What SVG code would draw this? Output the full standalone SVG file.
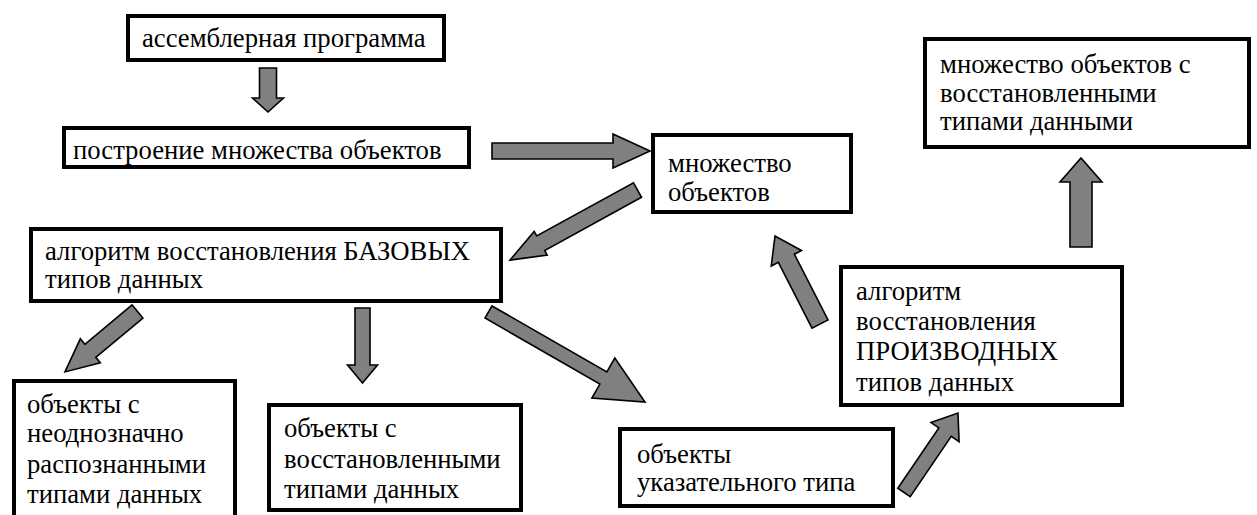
<svg xmlns="http://www.w3.org/2000/svg" width="1257" height="515" viewBox="0 0 1257 515">
<style>
.box{fill:#fff;stroke:#000;stroke-width:4}
.arr{fill:#808080;stroke:#000;stroke-width:1.6;stroke-linejoin:miter}
</style>
<rect width="1257" height="515" fill="#fff"/>
<g id="connectors">
<polygon class="arr" transform="translate(268,68) rotate(90)" points="0,-8.5 30,-8.5 30,-15.5 44,0 30,15.5 30,8.5 0,8.5"/>
<polygon class="arr" transform="translate(492,151) rotate(0)" points="0,-8 121,-8 121,-17 158,0 121,17 121,8 0,8"/>
<polygon class="arr" transform="translate(637.5,190) rotate(151.2)" points="0,-8.3 110.5,-8.3 110.5,-13.5 145.5,0 110.5,13.5 110.5,8.3 0,8.3"/>
<polygon class="arr" transform="translate(137.5,311.5) rotate(140.2)" points="0,-8.5 61.4,-8.5 61.4,-15.6 94.4,0 61.4,15.6 61.4,8.5 0,8.5"/>
<polygon class="arr" transform="translate(362.5,308) rotate(90)" points="0,-7.5 57,-7.5 57,-15 75,0 57,15 57,7.5 0,7.5"/>
<polygon class="arr" transform="translate(488.5,312) rotate(29.9)" points="0,-7 132.5,-7 132.5,-23 180.5,0 132.5,23 132.5,7 0,7"/>
<polygon class="arr" transform="translate(820,324) rotate(-117.1)" points="0,-9 73.8,-9 73.8,-17 98.8,0 73.8,17 73.8,9 0,9"/>
<polygon class="arr" transform="translate(904,492.5) rotate(-55.8)" points="0,-7.5 73,-7.5 73,-17 96,0 73,17 73,7.5 0,7.5"/>
<polygon class="arr" transform="translate(1081,247) rotate(-90)" points="0,-11 65,-11 65,-21 89,0 65,21 65,11 0,11"/>
</g>
<g font-family="Liberation Serif, Times New Roman, Noto Serif, DejaVu Serif, serif" font-size="26.7" fill="#000">
<g id="n1"><rect class="box" x="128" y="16" width="316" height="44"/><text x="142" y="47">ассемблерная программа</text></g>
<g id="n2"><rect class="box" x="64" y="128" width="405" height="39"/><text x="73" y="159">построение множества объектов</text></g>
<g id="n3"><rect class="box" x="653" y="135" width="198" height="77"/><text x="668" y="172">множество</text><text x="668" y="201">объектов</text></g>
<g id="n4"><rect class="box" x="925" y="39" width="324" height="108"/><text x="940" y="73">множество объектов с</text><text x="940" y="102">восстановленными</text><text x="940" y="130">типами данными</text></g>
<g id="n5"><rect class="box" x="31" y="229" width="470" height="72"/><text x="45" y="260">алгоритм восстановления БАЗОВЫХ</text><text x="45" y="288">типов данных</text></g>
<g id="n6"><rect class="box" x="841" y="267" width="281" height="138"/><text x="856" y="300">алгоритм</text><text x="856" y="330">восстановления</text><text x="856" y="360">ПРОИЗВОДНЫХ</text><text x="856" y="391">типов данных</text></g>
<g id="n7"><rect class="box" x="14" y="381" width="221" height="150"/><text x="27" y="413">объекты с</text><text x="27" y="442">неоднозначно</text><text x="27" y="473">распознанными</text><text x="27" y="503">типами данных</text></g>
<g id="n8"><rect class="box" x="269" y="405" width="252" height="105"/><text x="284" y="437">объекты с</text><text x="284" y="468">восстановленными</text><text x="284" y="498">типами данных</text></g>
<g id="n9"><rect class="box" x="620" y="429" width="273" height="77"/><text x="637" y="463">объекты</text><text x="637" y="491">указательного типа</text></g>
</g>
</svg>
